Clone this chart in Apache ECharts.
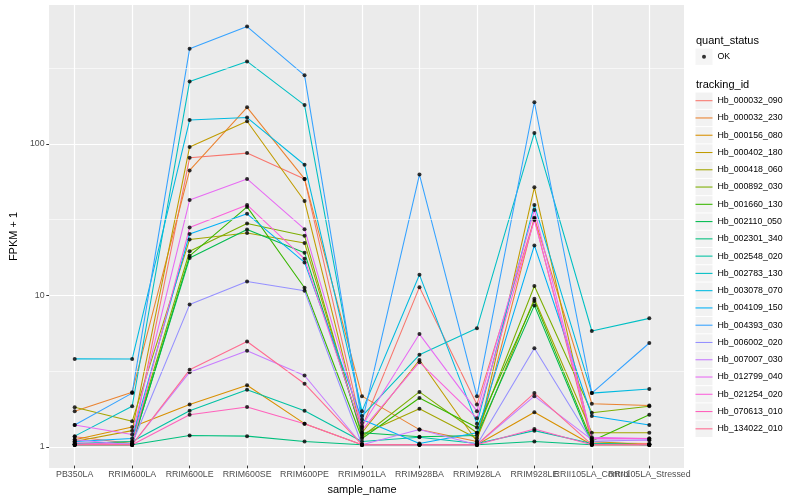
<!DOCTYPE html>
<html><head><meta charset="utf-8">
<script src="https://cdn.jsdelivr.net/npm/echarts@6/dist/echarts.min.js"></script>
<style>html,body{margin:0;padding:0;background:#fff}#c{width:800px;height:500px}</style>
</head><body><div id="c"></div>
<script>
// ---- data ----
const categories = ['PB350LA','RRIM600LA','RRIM600LE','RRIM600SE','RRIM600PE','RRIM901LA','RRIM928BA','RRIM928LA','RRIM928LE','RRII105LA_Control','RRII105LA_Stressed'];
const trackingIds = ['Hb_000032_090','Hb_000032_230','Hb_000156_080','Hb_000402_180','Hb_000418_060','Hb_000892_030','Hb_001660_130','Hb_002110_050','Hb_002301_340','Hb_002548_020','Hb_002783_130','Hb_003078_070','Hb_004109_150','Hb_004393_030','Hb_006002_020','Hb_007007_030','Hb_012799_040','Hb_021254_020','Hb_070613_010','Hb_134022_010'];
const Hb_000032_090 = [1.13, 1.02, 80, 86, 58, 1.3, 11.1, 1.85, 31.5, 1.03, 1.02];
const Hb_000032_230 = [1.67, 2.23, 66, 173, 58, 2.1, 1.26, 1.05, 32, 1.87, 1.82];
const Hb_000156_080 = [1.08, 1.31, 1.85, 2.48, 1.38, 1.0, 1.0, 1.0, 1.64, 1.0, 1.0];
const Hb_000402_180 = [1.05, 1.24, 94.5, 140, 41.4, 1.2, 3.65, 1.05, 51, 1.05, 1.0];
const Hb_000418_060 = [1.77, 1.43, 23, 25.4, 21.8, 1.17, 1.73, 1.1, 9.3, 1.2, 1.2];
const Hb_000892_030 = [1.0, 1.05, 19.2, 29.3, 24.3, 1.13, 2.24, 1.2, 11.3, 1.63, 1.8];
const Hb_001660_130 = [1.0, 1.0, 17.9, 37.8, 11, 1.1, 2.04, 1.3, 9.0, 1.06, 1.58];
const Hb_002110_050 = [1.0, 1.0, 17.3, 26.8, 18.8, 1.2, 1.13, 1.15, 8.4, 1.02, 1.0];
const Hb_002301_340 = [1.0, 1.0, 1.15, 1.14, 1.05, 1.0, 1.0, 1.0, 1.05, 1.0, 1.0];
const Hb_002548_020 = [1.02, 1.05, 1.68, 2.32, 1.68, 1.05, 1.12, 1.02, 1.24, 1.02, 1.0];
const Hb_002783_130 = [1.14, 1.8, 257, 349, 179, 1.55, 3.95, 5.92, 117, 5.68, 6.89];
const Hb_003078_070 = [3.71, 3.7, 142.5, 148, 72, 1.67, 13.4, 1.38, 39, 2.2, 2.34];
const Hb_004109_150 = [1.05, 1.1, 25, 34, 16.2, 1.47, 1.02, 1.2, 21, 1.55, 1.35];
const Hb_004393_030 = [1.35, 2.2, 424, 594, 282, 1.4, 62, 2.1, 187, 2.2, 4.73];
const Hb_006002_020 = [1.0, 1.02, 8.5, 12.1, 10.5, 1.0, 1.0, 1.0, 4.37, 1.05, 1.08];
const Hb_007007_030 = [1.08, 1.0, 3.03, 4.2, 2.88, 1.0, 1.26, 1.0, 2.1, 1.08, 1.07];
const Hb_012799_040 = [1.35, 1.17, 42, 58, 26.9, 1.33, 5.42, 1.67, 36, 1.12, 1.1];
const Hb_021254_020 = [1.03, 1.0, 27.6, 39, 17.1, 1.25, 3.53, 1.5, 31, 1.1, 1.1];
const Hb_070613_010 = [1.0, 1.0, 1.58, 1.78, 1.38, 1.0, 1.0, 1.0, 1.27, 1.0, 1.0];
const Hb_134022_010 = [1.0, 1.0, 3.14, 4.84, 2.54, 1.0, 1.0, 1.0, 2.2, 1.0, 1.0];
const seriesValues = [Hb_000032_090, Hb_000032_230, Hb_000156_080, Hb_000402_180, Hb_000418_060, Hb_000892_030, Hb_001660_130, Hb_002110_050, Hb_002301_340, Hb_002548_020, Hb_002783_130, Hb_003078_070, Hb_004109_150, Hb_004393_030, Hb_006002_020, Hb_007007_030, Hb_012799_040, Hb_021254_020, Hb_070613_010, Hb_134022_010];
const yTickLabels = [1, 10, 100];
const yMinorBreaks = [3.1623, 31.623, 316.23];
const quantStatus = ['OK'];

// ---- styles ----
const palette = ['#F8766D','#EA8331','#D89000','#C09B00','#A3A500','#7CAE00','#39B600','#00BB4E','#00BF7D','#00C1A3','#00BFC4','#00BAE0','#00B0F6','#35A2FF','#9590FF','#C77CFF','#E76BF3','#FA62DB','#FF62BC','#FF6C91'];
const FONT = '"Liberation Sans", Arial, Helvetica, sans-serif';
const Y_MIN = 0.727, Y_MAX = 826;
const KEY_W = 17, KEY_H = 16.27, KEY_GAP = 1;
const lineIcon = 'path://M0,0 M17,16.27 M0,7.6 L17,7.6 L17,8.67 L0,8.67 Z';
const dotIcon = 'path://M0,0 M17,16.27 M10.5,8.135 A2,2 0 1 1 6.5,8.135 A2,2 0 1 1 10.5,8.135 Z';

const chart = echarts.init(document.getElementById('c'));

const series = [];
series.push({
  type: 'line', xAxisIndex: 0, yAxisIndex: 0, data: [[0.5, 1]], showSymbol: false, symbol: 'none',
  silent: true, z: 1, lineStyle: { opacity: 0 },
  markLine: {
    silent: true, symbol: ['none', 'none'], label: { show: false },
    lineStyle: { color: '#FFFFFF', width: 0.6, type: 'solid' },
    emphasis: { disabled: true },
    data: yMinorBreaks.map(v => ({ yAxis: v }))
  }
});
trackingIds.forEach((id, i) => {
  series.push({
    type: 'line', name: id, xAxisIndex: 1, yAxisIndex: 1,
    data: seriesValues[i], symbol: 'none', silent: true, z: 2,
    lineStyle: { width: 1.07, color: palette[i] },
    itemStyle: { color: palette[i] }
  });
});
const points = [];
seriesValues.forEach(arr => arr.forEach((v, j) => points.push([j, v])));
series.push({
  type: 'scatter', name: quantStatus[0], xAxisIndex: 1, yAxisIndex: 1,
  data: points, symbol: 'circle', symbolSize: 4, silent: true, z: 3,
  itemStyle: { color: '#000000' }
});

const legendCommon = {
  orient: 'vertical', padding: 0, itemGap: KEY_GAP, itemWidth: KEY_W, itemHeight: KEY_H,
  selectedMode: false
};

chart.setOption({
  animation: false,
  backgroundColor: '#FFFFFF',
  textStyle: { fontFamily: FONT },
  grid: [
    { left: 40, top: 5, width: 644, height: 463, show: true, backgroundColor: '#EBEBEB', borderWidth: 0, containLabel: false },
    { left: 74.7, top: 5, width: 574.6, height: 463, show: false, containLabel: false }
  ],
  xAxis: [
    { gridIndex: 0, type: 'value', min: 0, max: 1, show: false },
    {
      gridIndex: 1, type: 'category', data: categories, boundaryGap: false,
      axisLine: { show: false },
      axisTick: { show: true, interval: 0, length: 2.75, lineStyle: { color: '#333333', width: 1 } },
      axisLabel: { interval: 0, fontSize: 8.8, color: '#4D4D4D', margin: 4.5, fontFamily: FONT },
      splitLine: { show: true, interval: 0, lineStyle: { color: '#FFFFFF', width: 1.2 } },
      name: 'sample_name', nameLocation: 'middle', nameGap: 16,
      nameTextStyle: { fontSize: 11, color: '#000000', fontFamily: FONT }
    }
  ],
  yAxis: [
    {
      gridIndex: 0, type: 'log', logBase: 10, min: Y_MIN, max: Y_MAX,
      axisLine: { show: false },
      axisTick: { show: true, length: 2.75, lineStyle: { color: '#333333', width: 1 }, customValues: yTickLabels },
      axisLabel: { fontSize: 8.8, color: '#4D4D4D', margin: 4.5, fontFamily: FONT, customValues: yTickLabels },
      splitLine: { show: true, lineStyle: { color: '#FFFFFF', width: 1.2 } },
      name: 'FPKM + 1', nameLocation: 'middle', nameGap: 22, nameRotate: 90,
      nameTextStyle: { fontSize: 11, color: '#000000', fontFamily: FONT }
    },
    { gridIndex: 1, type: 'log', logBase: 10, min: Y_MIN, max: Y_MAX, show: false }
  ],
  legend: [
    Object.assign({}, legendCommon, {
      left: 695.5, top: 48.57, z: 1,
      data: quantStatus.map(n => ({ name: n, icon: 'rect', itemStyle: { color: '#F2F2F2', borderWidth: 0 } })),
      textStyle: { color: 'rgba(0,0,0,0)', fontSize: 8.8, fontFamily: FONT }
    }),
    Object.assign({}, legendCommon, {
      left: 695.5, top: 48.57, z: 2, icon: dotIcon,
      data: quantStatus,
      itemStyle: { borderWidth: 0 },
      textStyle: { color: '#000000', fontSize: 8.8, fontFamily: FONT }
    }),
    Object.assign({}, legendCommon, {
      left: 695.5, top: 92.56, z: 1,
      data: trackingIds.map(n => ({ name: n, icon: 'rect', itemStyle: { color: '#F2F2F2', borderWidth: 0 } })),
      textStyle: { color: 'rgba(0,0,0,0)', fontSize: 8.8, fontFamily: FONT }
    }),
    Object.assign({}, legendCommon, {
      left: 695.5, top: 92.56, z: 2, icon: lineIcon,
      data: trackingIds,
      itemStyle: { borderWidth: 0 },
      textStyle: { color: '#000000', fontSize: 8.8, fontFamily: FONT }
    })
  ],
  graphic: [
    { type: 'text', x: 696, y: 40.7, style: { text: 'quant_status', fontSize: 11, fontFamily: FONT, fill: '#000000', verticalAlign: 'middle' } },
    { type: 'text', x: 696, y: 85, style: { text: 'tracking_id', fontSize: 11, fontFamily: FONT, fill: '#000000', verticalAlign: 'middle' } }
  ],
  series: series
});
</script>
</body></html>
